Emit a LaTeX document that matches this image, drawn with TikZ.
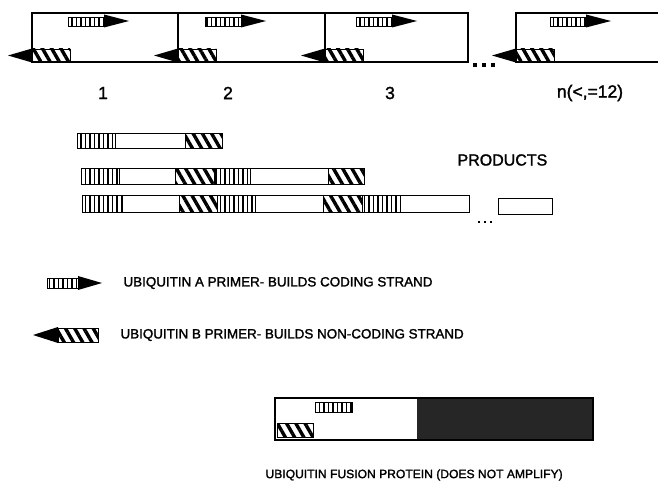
\documentclass[tikz,border=0pt]{standalone}
\usepackage{fontspec}
\setmainfont{Liberation Sans}[FakeBold=1.6]
\usepackage{tikz}
\usetikzlibrary{patterns.meta}

\begin{document}
\begin{tikzpicture}[x=1pt,y=-1pt,
  boxline/.style={line width=1.8pt},
  prodline/.style={line width=0.9pt},
  ubA/.style={draw,line width=0.8pt,pattern={Lines[angle=90,distance=4.5pt,line width=1.6pt]}},
  ubB/.style={draw,line width=0.8pt,pattern={Lines[angle=-60,distance=8pt,line width=3.4pt]}},
  tip/.style={fill=black},
  num/.style={font=\fontsize{17.5}{20}\selectfont},
  txt/.style={anchor=west,font=\fontsize{13.4}{16}\selectfont}]
  \useasboundingbox (0,0) rectangle (658,487);
  % template repeats
  \foreach \l/\r/\a in {32/178/68, 178/325/205, 325/468/356}{
    \draw[boxline] (\l,13) rectangle (\r,62);
  }
  \draw[boxline] (658,13) -- (516,13) -- (516,62) -- (658,62);
  \foreach \l/\a in {32/68, 178/205, 325/356, 516/550}{
    \draw[ubA] (\a,17) rectangle ++(36,9);
    \fill[tip] (\a+36,14.5) -- ++(25,6.5) -- ++(-25,6.5) -- cycle;
    \draw[ubB] (\l,49) rectangle ++(38,13);
    \fill[tip] (\l,48.5) -- ++(-24,7) -- ++(24,7) -- cycle;
  }
  \foreach \x in {475,484,493} \fill (\x-2,63) rectangle ++(4,4);
  \node[num] (n1) at (103,93) {1};
  \node[num] (n2) at (228,93) {2};
  \node[num] (n3) at (390,93) {3};
  \node[num] (nn) at (590,93) {n(<,=12)};
  % products
  \node[anchor=west,font=\fontsize{16}{19}\selectfont] (prod) at (454,160) {PRODUCTS};
  \draw[prodline] (77,133) rectangle (222,148);
  \draw[ubA] (77,133) rectangle (115,148);
  \draw[ubB] (185,133) rectangle (222,148);
  \draw[prodline] (81,168) rectangle (364,184);
  \foreach \p/\q in {81/119, 214/250} \draw[ubA] (\p,168) rectangle (\q,184);
  \foreach \p/\q in {175/214, 328/364} \draw[ubB] (\p,168) rectangle (\q,184);
  \draw[prodline] (82,195) rectangle (469,212);
  \foreach \p/\q in {82/122, 217/255, 362/400} \draw[ubA] (\p,195) rectangle (\q,212);
  \foreach \p/\q in {179/217, 323/362} \draw[ubB] (\p,195) rectangle (\q,212);
  \foreach \x in {479,485,491} \fill (\x-1,221) rectangle ++(2,2);
  \draw[prodline] (498,198) rectangle (552,214);
  % legend
  \draw[ubA] (47,278) rectangle (78,288);
  \fill[tip] (78,276) -- (102,283) -- (78,290) -- cycle;
  \node[txt] (legA) at (120,283) {UBIQUITIN A PRIMER- BUILDS CODING STRAND};
  \draw[ubB] (58,328) rectangle (98,342);
  \fill[tip] (58,327) -- (33,335) -- (58,343) -- cycle;
  \node[txt] (legB) at (117,335) {UBIQUITIN B PRIMER- BUILDS NON-CODING STRAND};
  % fusion construct
  \fill[black!85] (417,398) rectangle (593,440);
  \draw[boxline] (275,398) rectangle (593,440);
  \draw[ubA] (315,402) rectangle (352,412);
  \draw[ubB] (277,423) rectangle (313,437);
  \node[anchor=west,font=\fontsize{12.1}{15}\selectfont] (cap) at (262,475) {UBIQUITIN FUSION PROTEIN (DOES NOT AMPLIFY)};
\end{tikzpicture}
\end{document}
